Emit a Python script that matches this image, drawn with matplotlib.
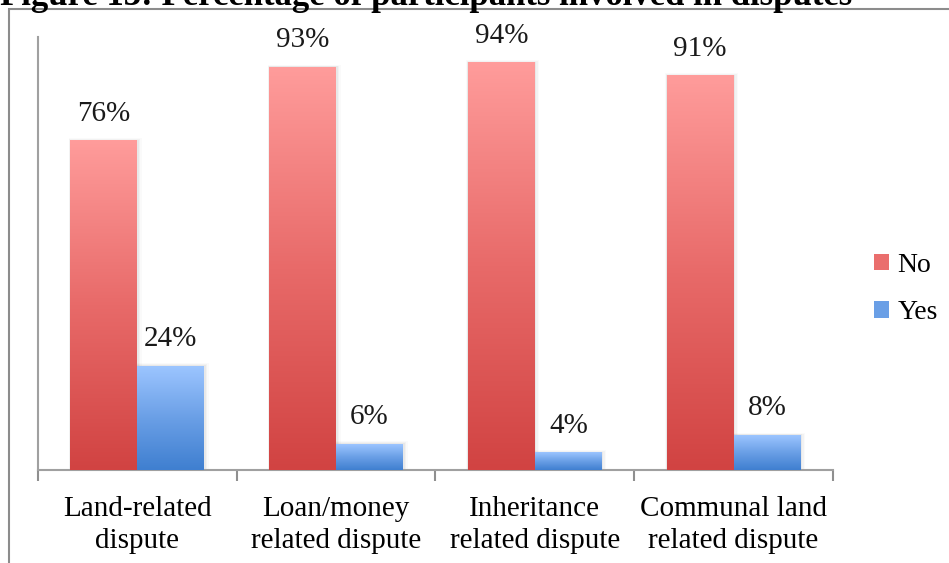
import numpy as np
import matplotlib
matplotlib.use("Agg")
import matplotlib.pyplot as plt
from matplotlib.patches import Rectangle
from matplotlib.colors import LinearSegmentedColormap

categories = ["Land-related\ndispute", "Loan/money\nrelated dispute",
              "Inheritance\nrelated dispute", "Communal land\nrelated dispute"]
series_names = ["No", "Yes"]
no_values = [76, 93, 94, 91]
yes_values = [24, 6, 4, 8]
value_labels_no = ["76%", "93%", "94%", "91%"]
value_labels_yes = ["24%", "6%", "4%", "8%"]
title = "Figure 13: Percentage of participants involved in disputes"

plt.rcParams["font.family"] = ["Liberation Serif", "DejaVu Serif"]

red_cmap = LinearSegmentedColormap.from_list("red_grad", ["#d14342", "#e86a69", "#ff9c9b"])
blue_cmap = LinearSegmentedColormap.from_list("blue_grad", ["#3f7fd0", "#6a9fe6", "#9cc5ff"])

fig = plt.figure(figsize=(9.49, 5.63), dpi=100)
ax = fig.add_axes([38 / 949, 93 / 563, (833 - 38) / 949, (526 - 93) / 563])

x = np.arange(len(categories))
width = 0.337
grad = np.linspace(0, 1, 256).reshape(-1, 1)

def gradient_bars(offset, values, cmap, labels):
    bars = ax.bar(x + offset, values, width, color="none", edgecolor="none", zorder=3)
    for rect, lab in zip(bars, labels):
        x0, h, w = rect.get_x(), rect.get_height(), rect.get_width()
        # soft drop shadow
        for k, a in enumerate([0.04, 0.03, 0.02]):
            d = 0.005 * (k + 1)
            ax.add_patch(Rectangle((x0 - d * 0.5, 0), w + 2 * d, h + 0.2 * (k + 1),
                                   facecolor="black", alpha=a, edgecolor="none", zorder=2))
        ax.imshow(grad, extent=(x0, x0 + w, 0, h), origin="lower", cmap=cmap,
                  aspect="auto", zorder=3)
        ax.annotate(lab, (x0 + w / 2, h), xytext=(0, 10), textcoords="offset points",
                    ha="center", va="bottom", fontsize=21, color="#1a1a1a")
    return bars

gradient_bars(-width / 2, no_values, red_cmap, value_labels_no)
gradient_bars(width / 2, yes_values, blue_cmap, value_labels_yes)

ax.set_xlim(-0.5, len(categories) - 0.5)
ax.set_ylim(0, 100)
ax.set_yticks([])
ax.set_xticks(x)
ax.set_xticklabels(categories, fontsize=21, linespacing=1.3)
ax.set_xticks(np.arange(len(categories) + 1) - 0.5, minor=True)
ax.tick_params(axis="x", which="major", length=0, pad=19)
ax.tick_params(axis="x", which="minor", length=8, width=1.5, color="#8f8f8f")
for side in ["top", "right"]:
    ax.spines[side].set_visible(False)
for side in ["left", "bottom"]:
    ax.spines[side].set_color("#a0a0a0")
    ax.spines[side].set_linewidth(1.5)

# legend entries
handles = [Rectangle((0, 0), 1, 1, facecolor="#ea6e6d", edgecolor="none"),
           Rectangle((0, 0), 1, 1, facecolor="#6a9fe6", edgecolor="none")]
fig.legend(handles, series_names, loc="center left", bbox_to_anchor=(874 / 949, 1 - 289 / 563),
           frameon=False, fontsize=20, handlelength=0.55, handleheight=0.55,
           handletextpad=0.3, labelspacing=0.8, borderpad=0, borderaxespad=0)

# outer chart frame
fig.patches.append(Rectangle((8.5 / 949, -0.1), 1.2, 1 - 9 / 563 + 0.1, transform=fig.transFigure,
                             facecolor="none", edgecolor="#8c8c8c", linewidth=1.5))

fig.text(0.0, 1 - 5 / 563, title, ha="left", va="baseline", fontsize=25, fontweight="bold")

fig.savefig("out.png", dpi=100)
